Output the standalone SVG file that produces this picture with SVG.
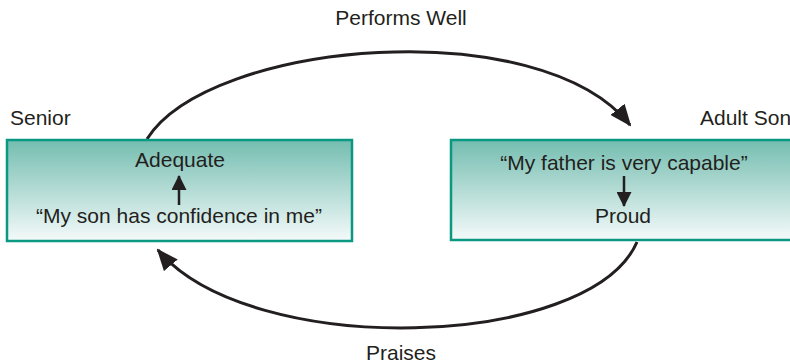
<svg xmlns="http://www.w3.org/2000/svg" width="790" height="364" viewBox="0 0 790 364">
  <defs>
    <linearGradient id="boxFill" x1="0" y1="0" x2="0" y2="1">
      <stop offset="0" stop-color="#74bdb0"/>
      <stop offset="1" stop-color="#f4fafa"/>
    </linearGradient>
    <marker id="bigHead" viewBox="0 0 22 18" refX="20" refY="9" markerWidth="22" markerHeight="18" markerUnits="userSpaceOnUse" orient="auto">
      <path d="M0,0 L22,9 L0,18 Z" fill="#231f20"/>
    </marker>
    <marker id="smallHead" viewBox="0 0 15 15" refX="14" refY="7.5" markerWidth="15" markerHeight="15" markerUnits="userSpaceOnUse" orient="auto">
      <path d="M0,0 L15,7.5 L0,15 Z" fill="#231f20"/>
    </marker>
  </defs>
  <style>
    .box { fill: url(#boxFill); stroke: #0b9882; stroke-width: 2.5; }
    .lbl { font-family: "Liberation Sans", Arial, sans-serif; font-size: 21px; fill: #231f20; }
    .mid { text-anchor: middle; }
    .arc { fill: none; stroke: #231f20; stroke-width: 3; }
    .inner { fill: none; stroke: #231f20; stroke-width: 2.5; }
  </style>

  <!-- cycle connectors -->
  <g id="connectors">
    <path class="arc" d="M147,139 C210,40 540,12 630,125" marker-end="url(#bigHead)"/>
    <path class="arc" d="M637,242 C590,350 250,360 158,250" marker-end="url(#bigHead)"/>
    <text class="lbl mid" x="401" y="25">Performs Well</text>
    <text class="lbl mid" x="401" y="360">Praises</text>
  </g>

  <!-- senior parent -->
  <g id="senior">
    <text class="lbl" x="10" y="125">Senior</text>
    <rect class="box" x="7" y="140" width="345" height="101"/>
    <text class="lbl mid" x="180" y="167">Adequate</text>
    <line class="inner" x1="179" y1="205" x2="179" y2="176" marker-end="url(#smallHead)"/>
    <text class="lbl mid" x="179" y="223">“My son has confidence in me”</text>
  </g>

  <!-- adult son -->
  <g id="adult-son">
    <text class="lbl" x="700" y="125">Adult Son</text>
    <rect class="box" x="451" y="140" width="345" height="100"/>
    <text class="lbl mid" x="624" y="170">“My father is very capable”</text>
    <line class="inner" x1="624" y1="176" x2="624" y2="206" marker-end="url(#smallHead)"/>
    <text class="lbl mid" x="623" y="223">Proud</text>
  </g>
</svg>
